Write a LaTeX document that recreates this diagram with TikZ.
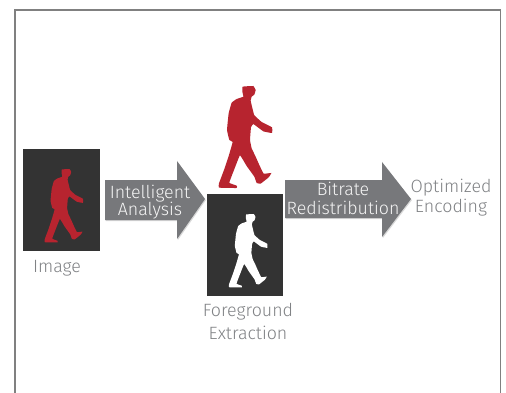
\documentclass[tikz,border=0pt]{standalone}
\usepackage{fontspec}
\setmainfont{Fira Sans Light}
\usetikzlibrary{shadows}
\definecolor{arrowgray}{HTML}{77787B}
\definecolor{labelgray}{HTML}{808285}
\definecolor{figred}{HTML}{B7242F}
\tikzset{
  frameline/.style={draw=black!50!white,line width=1.3pt},
  photo/.style={fill=black!80!white,draw=none},
  bigarrow/.style={fill=arrowgray,draw=none,drop shadow={shadow xshift=0.8pt,shadow yshift=-1.2pt,fill=black!25,opacity=0.6}},
  arrowtext/.style={text=white!92!gray,font=\fontsize{17.8}{19}\selectfont,inner sep=0pt,anchor=base},
  labeltext/.style={text=labelgray,font=\fontsize{17.8}{19}\selectfont,inner sep=0pt,anchor=base}
}
\newcommand{\walker}[4]{%
  \begin{scope}[shift={(#1,#2)},scale=#3]
    \fill[#4] plot[smooth cycle,tension=0.15] coordinates {
      (128,20) (160,18) (167,30) (163,44) (155,50) (152,62) (158,88) (163,106)
      (185,126) (216,142) (216,159) (190,154) (160,132) (153,142) (150,180)
      (155,205) (166,228) (178,255) (191,281) (214,279) (206,292) (182,311) (170,309)
      (163,290) (140,258) (120,226) (104,265) (88,308) (110,317) (110,324)
      (57,323) (57,310) (72,270) (87,225) (98,186) (88,180) (81,150) (86,100)
      (95,68) (110,57) (130,50) (127,35)};
  \end{scope}}
\begin{document}
\begin{tikzpicture}[x=1pt,y=-1pt]
  \useasboundingbox (0,0) rectangle (506,393);
  \fill[white] (0,0) rectangle (506,393);
  \draw[frameline] (15,393) -- (15,10) -- (500.7,10) -- (500.7,393);
  % photos
  \fill[photo] (23,149) rectangle (100,251);
  \walker{31.1}{164.7}{0.24}{figred}
  \fill[photo] (207,194) rectangle (283,296);
  \walker{215.4}{209.7}{0.24}{white}
  \walker{200}{80}{0.3333}{figred}
  % arrows
  \path[bigarrow] (105,180) -- (177,180) -- (177,161) -- (205,199) -- (177,239) -- (177,220) -- (105,220) -- cycle;
  \path[bigarrow] (285,180) -- (382,180) -- (382,162) -- (411,199) -- (382,237) -- (382,218) -- (285,218) -- cycle;
  % labels
  \node[arrowtext] (a1) at (150,198) {Intelligent};
  \node[arrowtext] (a2) at (150,215) {Analysis};
  \node[arrowtext] (b1) at (343,195) {Bitrate};
  \node[arrowtext] (b2) at (343,214) {Redistribution};
  \node[labeltext] (l1) at (57,272) {Image};
  \node[labeltext] (l2) at (248,316) {Foreground};
  \node[labeltext] (l3) at (248,339) {Extraction};
  \node[labeltext] (l4) at (451,192) {Optimized};
  \node[labeltext] (l5) at (451,212) {Encoding};
\end{tikzpicture}
\end{document}
